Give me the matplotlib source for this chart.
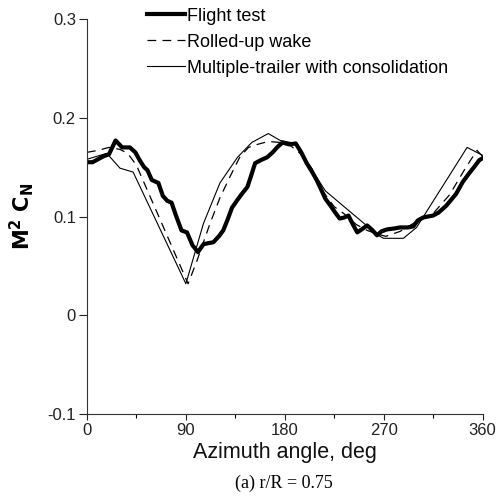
import matplotlib
matplotlib.use("Agg")
import matplotlib.pyplot as plt
from matplotlib.ticker import MultipleLocator

flight_x = [0, 5, 10, 15, 20, 26, 32, 39, 44, 48, 52, 55, 59, 65, 69, 73, 77, 81, 86, 91, 96, 101,
            106, 110, 115, 120, 124, 128, 132, 137, 141, 146, 149, 153, 158, 164, 169, 173, 178,
            184, 190, 195, 200, 205, 209, 212, 217, 221, 226, 230, 234, 238, 242, 246, 250, 255,
            260, 264, 268, 273, 280, 285, 292, 297, 301, 306, 310, 315, 320, 327, 336, 342, 348,
            353, 357, 360]
flight_y = [0.155, 0.155, 0.158, 0.161, 0.163, 0.177, 0.170, 0.170, 0.165, 0.157, 0.150, 0.147,
            0.137, 0.134, 0.121, 0.116, 0.114, 0.101, 0.086, 0.084, 0.071, 0.064, 0.072, 0.073,
            0.074, 0.080, 0.086, 0.097, 0.109, 0.117, 0.123, 0.130, 0.140, 0.154, 0.157, 0.160,
            0.165, 0.170, 0.175, 0.173, 0.174, 0.165, 0.154, 0.145, 0.137, 0.130, 0.118, 0.112,
            0.104, 0.098, 0.099, 0.101, 0.092, 0.084, 0.087, 0.091, 0.086, 0.081, 0.085, 0.087,
            0.088, 0.089, 0.089, 0.090, 0.096, 0.099, 0.100, 0.101, 0.104, 0.111, 0.123, 0.135,
            0.144, 0.151, 0.157, 0.159]

rolled_x = [0, 10, 20, 30, 37, 45, 92, 100, 112, 121, 130, 139, 147, 155, 165, 176, 185, 195,
            205, 215, 225, 235, 245, 255, 265, 272, 285, 300, 315, 330, 345, 355, 360]
rolled_y = [0.165, 0.167, 0.170, 0.168, 0.164, 0.152, 0.032, 0.055, 0.093, 0.119, 0.140, 0.160,
            0.170, 0.173, 0.176, 0.175, 0.172, 0.163, 0.148, 0.125, 0.110, 0.102, 0.092, 0.086,
            0.082, 0.080, 0.085, 0.095, 0.103, 0.122, 0.150, 0.167, 0.161]

multi_x = [0, 18, 30, 42, 90, 106, 121, 137, 150, 165, 176, 190, 206, 217, 265, 270, 288, 300,
           346, 360]
multi_y = [0.158, 0.164, 0.149, 0.145, 0.032, 0.093, 0.134, 0.160, 0.175, 0.184, 0.177, 0.174,
           0.145, 0.126, 0.081, 0.078, 0.078, 0.089, 0.170, 0.162]

x_ticks = [0, 90, 180, 270, 360]
y_ticks = [-0.1, 0, 0.1, 0.2, 0.3]
y_tick_labels = ["-0.1", "0", "0.1", "0.2", "0.3"]

plt.rcParams['font.family'] = ['Liberation Sans', 'DejaVu Sans']

fig = plt.figure(figsize=(5.0, 4.99), dpi=100)
ax = fig.add_axes([0.174, 0.170, 0.791, 0.792])

ax.plot(flight_x, flight_y, color='black', lw=3.0, label='Flight test', solid_joinstyle='round')
ax.plot(rolled_x, rolled_y, color='black', lw=0.9, ls=(0, (7, 5)), label='Rolled-up wake')
ax.plot(multi_x, multi_y, color='black', lw=0.8, label='Multiple-trailer with consolidation')

ax.set_xlim(0, 360)
ax.set_ylim(-0.1, 0.3)
ax.set_xticks(x_ticks)
ax.xaxis.set_minor_locator(MultipleLocator(45))
ax.set_yticks(y_ticks)
ax.set_yticklabels(y_tick_labels)

for s in ['top', 'right']:
    ax.spines[s].set_visible(False)
for s in ['left', 'bottom']:
    ax.spines[s].set_linewidth(0.8)
    ax.spines[s].set_color('#333333')

ax.tick_params(axis='both', which='major', direction='out', length=6, width=0.8,
               labelsize=12, colors='#222222', pad=2)
ax.tick_params(axis='x', which='major', length=4)
ax.tick_params(axis='x', which='minor', direction='out', length=3, width=0.8)

ax.set_xlabel('Azimuth angle, deg', fontsize=15.5, labelpad=3, color='#111111')
ax.set_ylabel(r'$\mathbf{M^2\ C_N}$', fontsize=15, labelpad=8)

leg = ax.legend(loc='upper left', bbox_to_anchor=(0.133, 1.047), frameon=False, fontsize=13,
                handlelength=2.1, handletextpad=0.15, labelspacing=0.5, borderaxespad=0)

fig.text(0.567, 0.032, '(a) r/R = 0.75', fontsize=13, family='Liberation Serif',
         ha='center', va='center')

fig.savefig('out.png', dpi=100)
